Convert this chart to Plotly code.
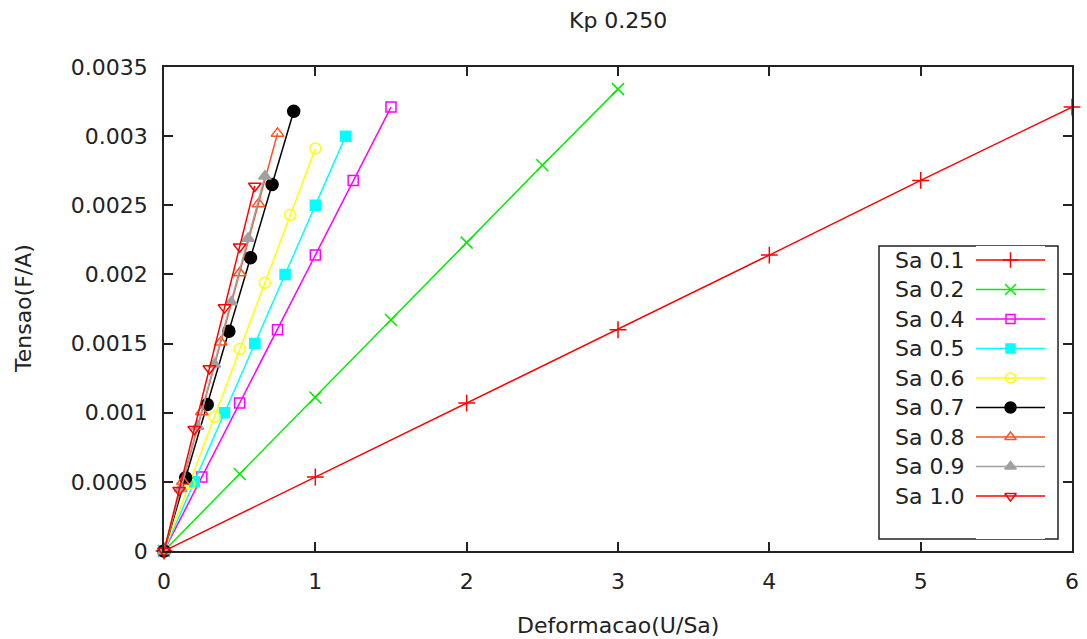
import plotly.graph_objects as go

# Series names and values (deformation U/Sa vs. stress F/A)
series_names = ["Sa 0.1", "Sa 0.2", "Sa 0.4", "Sa 0.5", "Sa 0.6",
                "Sa 0.7", "Sa 0.8", "Sa 0.9", "Sa 1.0"]

x_sa01 = [0, 1, 2, 3, 4, 5, 6]
y_sa01 = [0, 0.000535, 0.00107, 0.0016, 0.00214, 0.00268, 0.00321]

x_sa02 = [0, 0.5, 1.0, 1.5, 2.0, 2.5, 3.0]
y_sa02 = [0, 0.000557, 0.00111, 0.00167, 0.00223, 0.00279, 0.00334]

x_sa04 = [0, 0.25, 0.5, 0.75, 1.0, 1.25, 1.5]
y_sa04 = [0, 0.000535, 0.00107, 0.0016, 0.00214, 0.00268, 0.00321]

x_sa05 = [0, 0.2, 0.4, 0.6, 0.8, 1.0, 1.2]
y_sa05 = [0, 0.0005, 0.001, 0.0015, 0.002, 0.0025, 0.003]

x_sa06 = [0, 0.1667, 0.3333, 0.5, 0.6667, 0.8333, 1.0]
y_sa06 = [0, 0.000485, 0.00097, 0.00146, 0.00194, 0.00243, 0.00291]

x_sa07 = [0, 0.1429, 0.2857, 0.4286, 0.5714, 0.7143, 0.8571]
y_sa07 = [0, 0.00053, 0.00106, 0.00159, 0.00212, 0.00265, 0.00318]

x_sa08 = [0, 0.125, 0.25, 0.375, 0.5, 0.625, 0.75]
y_sa08 = [0, 0.000503, 0.001005, 0.00151, 0.00201, 0.00251, 0.00302]

x_sa09 = [0, 0.1111, 0.2222, 0.3333, 0.4444, 0.5556, 0.6667]
y_sa09 = [0, 0.00045, 0.0009, 0.00135, 0.0018, 0.00226, 0.00271]

x_sa10 = [0, 0.1, 0.2, 0.3, 0.4, 0.5, 0.6]
y_sa10 = [0, 0.00044, 0.00088, 0.00132, 0.00176, 0.0022, 0.00264]

x_ticks = [0, 1, 2, 3, 4, 5, 6]
x_tick_labels = ["0", "1", "2", "3", "4", "5", "6"]
y_ticks = [0, 0.0005, 0.001, 0.0015, 0.002, 0.0025, 0.003, 0.0035]
y_tick_labels = ["0", "0.0005", "0.001", "0.0015", "0.002",
                 "0.0025", "0.003", "0.0035"]

xs = [x_sa01, x_sa02, x_sa04, x_sa05, x_sa06, x_sa07, x_sa08, x_sa09, x_sa10]
ys = [y_sa01, y_sa02, y_sa04, y_sa05, y_sa06, y_sa07, y_sa08, y_sa09, y_sa10]

colors = ["#ff0000", "#00ee00", "#ff00ff", "#00ffff", "#ffff00",
          "#000000", "#ff5020", "#a0a0a0", "#ff0000"]
symbols = ["cross-thin", "x-thin", "square-open", "square", "circle-open",
           "circle", "triangle-up-open", "triangle-up", "triangle-down-open"]
sizes = [12, 12, 10, 10, 11, 12, 11, 11, 11]

FONT = "DejaVu Sans"
FS = 22
TXT = "#222222"
W, H = 1087, 639
L, R, T, B = 164, 15, 67, 88

fig = go.Figure()

for name, x, y, c, s, sz in zip(series_names, xs, ys, colors, symbols, sizes):
    fig.add_trace(go.Scatter(
        x=x, y=y, name=name, mode="lines+markers",
        line=dict(color=c, width=1.5),
        marker=dict(symbol=s, size=sz, color=c, line=dict(color=c, width=1.5)),
        cliponaxis=False, showlegend=False,
    ))


# Pixel -> paper conversions for the fixed-size page
def px_x(p):
    return (p - L) / (W - L - R)


def px_y(p):
    return (H - B - p) / (H - T - B)


# Key box in the lower right, gnuplot style: label, then line sample with marker
key_left, key_right, key_top, key_bottom = 879, 1058, 246, 539
row0, row_step = 260, 29.5
sample_x0, sample_x1 = 976, 1045
text_right = 966

fig.add_shape(type="rect", xref="paper", yref="paper",
              x0=px_x(key_left), x1=px_x(key_right),
              y0=px_y(key_bottom), y1=px_y(key_top),
              line=dict(color=TXT, width=1.5), fillcolor="white", layer="below")

for i, (name, c, s, sz) in enumerate(zip(series_names, colors, symbols, sizes)):
    ry = row0 + i * row_step
    fig.add_trace(go.Scatter(
        x=[0, 0.5, 1], y=[ry, ry, ry], mode="lines",
        line=dict(color=c, width=1.5),
        xaxis="x2", yaxis="y2", showlegend=False, hoverinfo="skip",
    ))
    fig.add_trace(go.Scatter(
        x=[0.5], y=[ry], mode="markers",
        marker=dict(symbol=s, size=sz - 1, color=c, line=dict(color=c, width=1.5)),
        xaxis="x2", yaxis="y2", showlegend=False, hoverinfo="skip",
        cliponaxis=False,
    ))
    fig.add_annotation(
        x=px_x(text_right), y=px_y(ry), xref="paper", yref="paper",
        text=name, showarrow=False, xanchor="right", yanchor="middle",
        font=dict(family=FONT, size=FS, color=TXT),
    )

# Axis titles
fig.add_annotation(
    x=0.5, y=px_y(625), xref="paper", yref="paper",
    text="Deformacao(U/Sa)", showarrow=False, xanchor="center", yanchor="middle",
    font=dict(family=FONT, size=FS, color=TXT),
)
fig.add_annotation(
    x=px_x(23), y=0.5, xref="paper", yref="paper",
    text="Tensao(F/A)", showarrow=False, xanchor="center", yanchor="middle",
    textangle=-90, font=dict(family=FONT, size=FS, color=TXT),
)

axis_common = dict(
    showline=True, linecolor=TXT, linewidth=1.5, mirror="ticks",
    ticks="inside", ticklen=9, tickwidth=1.5, tickcolor=TXT,
    showgrid=False, zeroline=False, automargin=False,
    tickfont=dict(family=FONT, size=FS, color=TXT),
)

fig.update_layout(
    width=W, height=H,
    margin=dict(l=L, r=R, t=T, b=B),
    paper_bgcolor="white", plot_bgcolor="white",
    title=dict(text="Kp 0.250", x=0.5687, xanchor="center", y=0.968, yanchor="middle",
               font=dict(family=FONT, size=FS, color=TXT)),
    xaxis=dict(range=[0, 6], tickvals=x_ticks, ticktext=x_tick_labels,
               ticklabelstandoff=10, **axis_common),
    yaxis=dict(range=[0, 0.0035], tickvals=y_ticks, ticktext=y_tick_labels,
               ticklabelstandoff=10, **axis_common),
    xaxis2=dict(domain=[px_x(sample_x0), px_x(sample_x1)], range=[0, 1],
                anchor="y2", visible=False, fixedrange=True),
    yaxis2=dict(domain=[px_y(key_bottom), px_y(key_top)],
                range=[key_bottom, key_top], anchor="x2", visible=False,
                fixedrange=True),
    showlegend=False,
)

fig.write_html("out.html")
